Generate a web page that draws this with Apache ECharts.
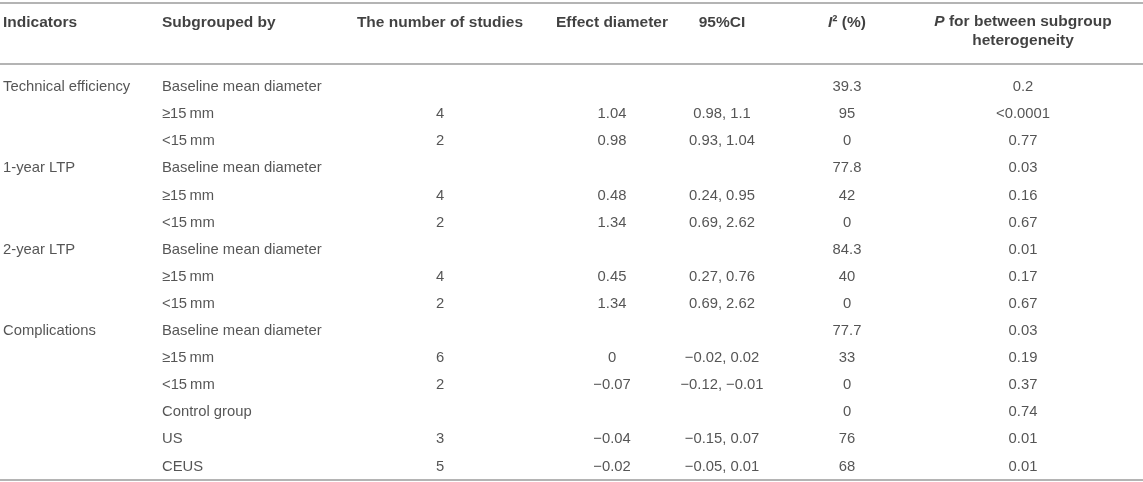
<!DOCTYPE html>
<html>
<head>
<meta charset="utf-8">
<script src="https://cdn.jsdelivr.net/npm/echarts@6/dist/echarts.min.js"></script>
<style>
html,body{margin:0;padding:0;background:#fff;}
#chart{width:1143px;height:482px;}
</style>
</head>
<body>
<div id="chart"></div>
<script>
// ---- data ----
var headers = ["Indicators", "Subgrouped by", "The number of studies", "Effect diameter", "95%CI", "I² (%)", "P for between subgroup\nheterogeneity"];
var indicators = ["Technical efficiency", "", "", "1-year LTP", "", "", "2-year LTP", "", "", "Complications", "", "", "", "", ""];
var subgroups = ["Baseline mean diameter", "≥15\u2009mm", "<15\u2009mm", "Baseline mean diameter", "≥15\u2009mm", "<15\u2009mm", "Baseline mean diameter", "≥15\u2009mm", "<15\u2009mm", "Baseline mean diameter", "≥15\u2009mm", "<15\u2009mm", "Control group", "US", "CEUS"];
var nStudies = ["", "4", "2", "", "4", "2", "", "4", "2", "", "6", "2", "", "3", "5"];
var effect = ["", "1.04", "0.98", "", "0.48", "1.34", "", "0.45", "1.34", "", "0", "\u22120.07", "", "\u22120.04", "\u22120.02"];
var ci95 = ["", "0.98, 1.1", "0.93, 1.04", "", "0.24, 0.95", "0.69, 2.62", "", "0.27, 0.76", "0.69, 2.62", "", "\u22120.02, 0.02", "\u22120.12, \u22120.01", "", "\u22120.15, 0.07", "\u22120.05, 0.01"];
var i2 = ["39.3", "95", "0", "77.8", "42", "0", "84.3", "40", "0", "77.7", "33", "0", "0", "76", "68"];
var pHet = ["0.2", "<0.0001", "0.77", "0.03", "0.16", "0.67", "0.01", "0.17", "0.67", "0.03", "0.19", "0.37", "0.74", "0.01", "0.01"];

// ---- layout (not data) ----
var colX = [3, 162, 440, 612, 722, 847, 1023];
var colAlign = ['left', 'left', 'center', 'center', 'center', 'center', 'center'];
var columns = [indicators, subgroups, nStudies, effect, ci95, i2, pHet];
var rowIds = subgroups.map(function (_, i) { return String(i); });
var FONT = '"Liberation Sans", Arial, Helvetica, sans-serif';
var BODY_SIZE = 14.8, HEAD_SIZE = 15.5;
var RULE = { color: '#b4b4b4', width: 2 };

var chart = echarts.init(document.getElementById('chart'), null, { renderer: 'canvas' });

var series = [];

// header series
series.push({
  type: 'scatter', xAxisIndex: 0, yAxisIndex: 0, symbolSize: 0, silent: true,
  data: headers.map(function (h, c) {
    var two = h.indexOf('\n') >= 0;
    return {
      value: [colX[c], 0, h],
      label: {
        position: colAlign[c] === 'left' ? 'right' : 'inside',
        distance: 0,
        align: colAlign[c],
        offset: [0, two ? -2 : -11]
      }
    };
  }),
  label: {
    show: true,
    verticalAlign: 'middle',
    fontFamily: FONT, fontSize: HEAD_SIZE, fontWeight: 'bold', color: '#111', lineHeight: 19,
    formatter: function (p) {
      var t = p.value[2];
      if (t.indexOf('I²') === 0) return '{it|I}{b|' + t.slice(1) + '}';
      if (t.indexOf('P ') === 0) return '{it|P}{b|' + t.slice(1) + '}';
      return '{b|' + t + '}';
    },
    rich: {
      it: { fontFamily: FONT, fontSize: HEAD_SIZE, fontWeight: 'bold', fontStyle: 'italic', color: '#111', lineHeight: 19 },
      b: { fontFamily: FONT, fontSize: HEAD_SIZE, fontWeight: 'bold', color: '#111', lineHeight: 19, align: 'center' }
    }
  }
});

// body series, one per column
columns.forEach(function (col, c) {
  var d = [];
  col.forEach(function (v, i) { if (v !== '') d.push([colX[c], i, v]); });
  series.push({
    type: 'scatter', xAxisIndex: 2, yAxisIndex: 1, symbolSize: 0, silent: true,
    data: d,
    label: {
      show: true,
      position: colAlign[c] === 'left' ? 'right' : 'inside',
      distance: 0,
      align: colAlign[c],
      verticalAlign: 'middle',
      fontFamily: FONT, fontSize: BODY_SIZE, color: '#2a2a2a',
      formatter: function (p) { return p.value[2]; }
    }
  });
});

function ruleAxis(grid, pos) {
  return {
    gridIndex: grid, type: 'value', min: 0, max: 1143, position: pos,
    axisLine: { show: true, onZero: false, lineStyle: RULE },
    axisTick: { show: false }, axisLabel: { show: false }, splitLine: { show: false }
  };
}

chart.setOption({
  animation: false,
  backgroundColor: '#fff',
  grid: [
    { left: 0, right: 0, top: 3, height: 61 },
    { left: 0, right: 0, top: 73.5, bottom: 2 }
  ],
  xAxis: [ruleAxis(0, 'top'), ruleAxis(0, 'bottom'), ruleAxis(1, 'bottom')],
  yAxis: [
    { gridIndex: 0, type: 'category', data: ['header'], show: false },
    { gridIndex: 1, type: 'category', data: rowIds, inverse: true, show: false }
  ],
  series: series
});
</script>
</body>
</html>
